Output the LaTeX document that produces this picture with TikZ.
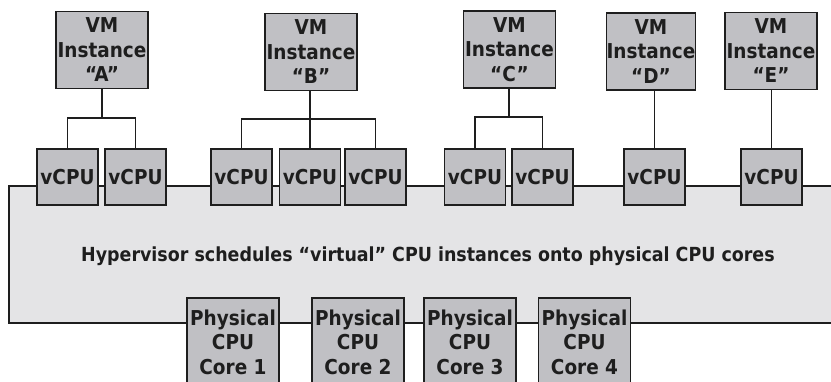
\documentclass[tikz,border=0pt]{standalone}
\usepackage{fontspec}
\setmainfont{DejaVu Sans Condensed}
\usepackage{tikz}

\definecolor{boxgray}{RGB}{192,192,196}
\definecolor{hvgray}{RGB}{228,228,230}
\definecolor{edgegray}{RGB}{30,30,30}

\begin{document}
\begin{tikzpicture}[x=1pt, y=-1pt, line join=miter,
    txt/.style={font=\bfseries\fontsize{19.4}{24.5}\selectfont, text=edgegray},
    grybox/.style={txt, font=\bfseries\fontsize{20.5}{24.5}\selectfont, draw=edgegray, line width=1.5pt, fill=boxgray, align=center, inner sep=0pt},
    vmbox/.style={grybox, minimum width=92pt, minimum height=77pt},
    cpubox/.style={grybox, minimum width=61pt, minimum height=56pt},
    corebox/.style={grybox, minimum width=92pt, minimum height=88pt},
    wire/.style={draw=edgegray, line width=1.3pt}]
    \useasboundingbox (0,0) rectangle (831,382);
    \clip (0,0) rectangle (831,382);

    \fill[hvgray] (9,186) rectangle (840,323);
    \draw[edgegray, line width=1.5pt] (840,186) -- (9,186) -- (9,323) -- (840,323);
    \node[txt] (hv) at (428,256) {Hypervisor schedules “virtual” CPU instances onto physical CPU cores};

    \node[vmbox] (A) at (102,50) {VM\\Instance\\“A”};
    \node[vmbox] (B) at (311,52) {VM\\Instance\\“B”};
    \node[vmbox] (C) at (509.5,49.5) {VM\\Instance\\“C”};
    \node[vmbox, minimum width=84pt] (D) at (651,51.5) {VM\\Instance\\“D”};
    \node[vmbox] (E) at (771,51) {VM\\Instance\\“E”};

    \foreach \name/\x in {vA1/67.5, vA2/135.5, vB1/241.5, vB2/310, vB3/375.5,
                          vC1/475, vC2/542.5, vD/654.5, vE/771.5}
        \node[cpubox] (\name) at (\x,177) {vCPU};

    \coordinate (jA) at (102,118);
    \coordinate (jB) at (310,119);
    \coordinate (jC) at (509,117);

    \draw[wire, line width=2pt] (A.south) -- (jA);
    \draw[wire] (vA1.north) |- (jA) -| (vA2.north);
    \draw[wire, line width=2pt] (jB |- B.south) -- (jB);
    \draw[wire] (vB1.north) |- (jB) -| (vB3.north);
    \draw[wire] (jB) -- (vB2.north);
    \draw[wire, line width=2pt] (jC |- C.south) -- (jC);
    \draw[wire] (vC1.north) |- (jC) -| (vC2.north);
    \draw[wire] (vD.north) -- (vD.north |- D.south);
    \draw[wire] (vE.north) -- (vE.north |- E.south);

    \foreach \n/\x in {1/233, 2/358, 3/470, 4/584.5}
        \node[corebox] (core\n) at (\x,342) {Physical\\CPU\\Core \n};
\end{tikzpicture}
\end{document}
